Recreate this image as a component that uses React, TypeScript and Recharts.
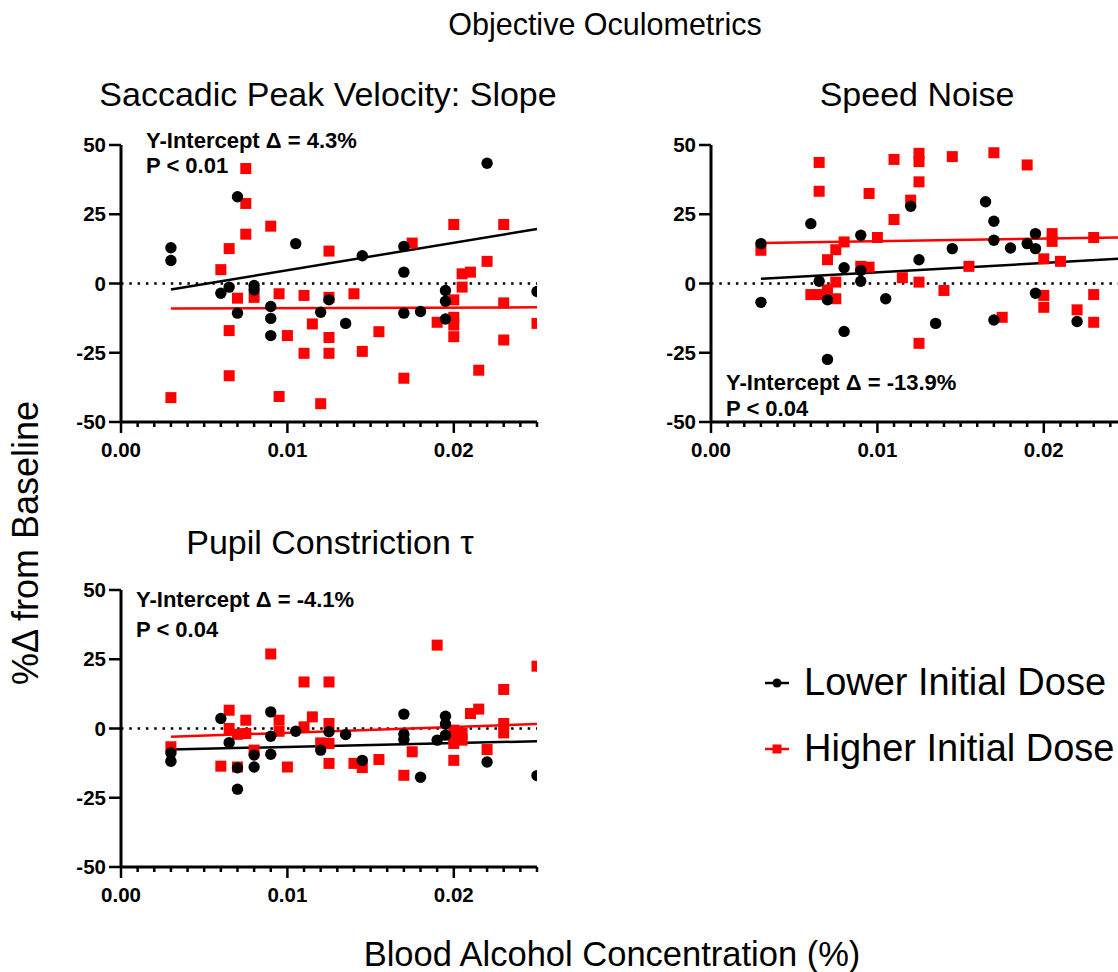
import React from 'react';
import { ScatterChart, Scatter, XAxis, YAxis, ReferenceLine } from 'recharts';

const FONT = '"Liberation Sans", Arial, Helvetica, sans-serif';
const RED = '#ff0000';
const BLACK = '#000000';

// ---- axes ----
const xTickValues = [
  0, 0.001, 0.002, 0.003, 0.004, 0.005, 0.006, 0.007, 0.008, 0.009, 0.01,
  0.011, 0.012, 0.013, 0.014, 0.015, 0.016, 0.017, 0.018, 0.019, 0.02,
  0.021, 0.022, 0.023, 0.024, 0.025,
];
const xMajorTicks = [0, 0.01, 0.02];
const xMajorLabels = ['0.00', '0.01', '0.02'];
const yTickValues = [-50, -25, 0, 25, 50];
const xDomain = [0, 0.025];
const yDomain = [-50, 50];

// ---- Saccadic Peak Velocity: Slope ----
const spvLower = [
  [0.003, 12.9], [0.003, 8.3], [0.006, -3.5], [0.0065, -1.3], [0.007, 31.3], [0.007, -10.7],
  [0.008, -0.7], [0.008, -2.3], [0.009, -8.3], [0.009, -12.6], [0.009, -18.8], [0.0105, 14.4],
  [0.012, -10.4], [0.0125, -5.9], [0.0135, -14.4], [0.0145, 10.0], [0.017, 13.4], [0.017, 4.1],
  [0.017, -10.7], [0.018, -10.1], [0.0195, -2.5], [0.0195, -6.4], [0.0195, -12.8], [0.022, 43.4],
  [0.025, -2.9],
];
const spvHigher = [
  [0.003, -41.2], [0.006, 5.0], [0.0065, 12.6], [0.0065, -17], [0.0065, -33.3], [0.007, -5.3],
  [0.0075, 41.5], [0.0075, 28.9], [0.0075, 17.8], [0.008, -5.0], [0.009, 20.7], [0.0095, -3.7],
  [0.0095, -40.8], [0.01, -18.8], [0.011, -4.3], [0.011, -25.2], [0.0115, -14.6], [0.012, -43.4],
  [0.0125, 11.7], [0.0125, -5], [0.0125, -19.5], [0.0125, -25.2], [0.014, -3.7], [0.0145, -24.5],
  [0.0155, -17.4], [0.017, -34.2], [0.0175, 14.6], [0.019, -14], [0.02, 21.3], [0.02, -5.9],
  [0.02, -12.2], [0.02, -15], [0.02, -19.2], [0.0205, 3.5], [0.0205, -1.3], [0.021, 4.1],
  [0.0215, -31.3], [0.022, 8.0], [0.023, 21.3], [0.023, -7], [0.023, -20.4], [0.025, -14.4],
];
const spvLowerFit = [[0.003, -2.2], [0.025, 19.7]];
const spvHigherFit = [[0.003, -9.0], [0.025, -8.6]];

// ---- Speed Noise ----
const snLower = [
  [0.003, 14.4], [0.003, -6.8], [0.006, 21.6], [0.0065, 0.8], [0.007, -5.9], [0.007, -27.4],
  [0.008, 5.7], [0.008, -17.3], [0.009, 17.4], [0.009, 4.7], [0.009, 0.8], [0.0105, -5.5],
  [0.012, 27.9], [0.0125, 8.6], [0.0135, -14.4], [0.0145, 12.6], [0.0165, 29.5], [0.017, 22.5],
  [0.017, 15.6], [0.017, -13.2], [0.018, 12.8], [0.019, 14.4], [0.0195, 18.0], [0.0195, 12.6],
  [0.0195, -3.5], [0.022, -13.7],
];
const snHigher = [
  [0.003, 12.0], [0.006, -4], [0.0065, 43.7], [0.0065, 33.3], [0.0065, -4], [0.007, 8.6],
  [0.007, -2.3], [0.0075, 12.2], [0.0075, 0.5], [0.0075, -5.5], [0.008, 15], [0.009, 6.2],
  [0.0095, 5.9], [0.0095, 32.5], [0.01, 16.6], [0.011, 44.8], [0.011, 23.1], [0.0115, 2.1],
  [0.012, 30.1], [0.0125, 47], [0.0125, 44], [0.0125, 36.7], [0.0125, 0.5], [0.0125, -21.6],
  [0.014, -2.5], [0.0145, 45.8], [0.0155, 6.2], [0.017, 47.2], [0.0175, -12.2], [0.019, 42.8],
  [0.02, 8.9], [0.02, -4.3], [0.02, -8.6], [0.0205, 18], [0.0205, 15.2], [0.021, 8.0],
  [0.022, -9.5], [0.023, 16.6], [0.023, -4.0], [0.023, -14.0],
];
const snLowerFit = [[0.003, 1.7], [0.025, 9.1]];
const snHigherFit = [[0.003, 14.6], [0.025, 16.7]];

// ---- Pupil Constriction tau ----
const pcLower = [
  [0.003, -8.8], [0.003, -11.8], [0.006, 3.6], [0.0065, -5.1], [0.007, -14.2], [0.007, -21.9],
  [0.008, -9.6], [0.008, -13.9], [0.009, 6.0], [0.009, -2.8], [0.009, -9.3], [0.0105, -1.0],
  [0.012, -7.8], [0.0125, -1.2], [0.0135, -2.2], [0.0145, -11.5], [0.017, 5.2], [0.017, -2.1],
  [0.017, -4.0], [0.018, -17.6], [0.019, -4.2], [0.0195, 4.4], [0.0195, 1.6], [0.0195, -2.4],
  [0.022, -12.1], [0.025, -17.0],
];
const pcHigher = [
  [0.003, -6.6], [0.006, -13.6], [0.0065, 6.6], [0.0065, 0], [0.007, -2.1], [0.007, -13.9],
  [0.0075, 3.0], [0.0075, -1.8], [0.008, -7.8], [0.009, 26.9], [0.0095, 3.0], [0.0095, -1],
  [0.01, -13.9], [0.011, 16.8], [0.011, 0.6], [0.0115, 4.2], [0.012, -5.2], [0.0125, 16.8],
  [0.0125, 1.8], [0.0125, -5.4], [0.0125, -12.6], [0.014, -12.6], [0.0145, -14.1], [0.0155, -11.2],
  [0.017, -16.9], [0.0175, -8.4], [0.019, 30.1], [0.02, -0.6], [0.02, -3.0], [0.02, -5.4],
  [0.02, -11.5], [0.0205, -1.8], [0.0205, -4.2], [0.021, 5.4], [0.0215, 7.0], [0.022, -7.6],
  [0.023, 14.1], [0.023, 1.8], [0.023, -1.6], [0.025, 22.5],
];
const pcLowerFit = [[0.003, -7.6], [0.025, -4.6]];
const pcHigherFit = [[0.003, -3.0], [0.025, 1.6]];

const toPts = (a: number[][]) => a.map(([x, y]) => ({ x, y }));

const XTick = (props: any) => {
  const { x, y, payload } = props;
  const idx = xMajorTicks.findIndex((m) => Math.abs(m - payload.value) < 1e-9);
  const major = idx >= 0;
  return (
    <g>
      <line x1={x} x2={x} y1={y} y2={y + (major ? 11 : 5)} stroke={BLACK} strokeWidth={2.5} />
      {major && (
        <text x={x} y={y + 35} textAnchor="middle" fontFamily={FONT} fontWeight="bold" fontSize={20.5} fill={BLACK}>
          {xMajorLabels[idx]}
        </text>
      )}
    </g>
  );
};

const YTick = (props: any) => {
  const { x, y, payload } = props;
  return (
    <g>
      <line x1={x - 12} x2={x} y1={y} y2={y} stroke={BLACK} strokeWidth={2.5} />
      <text x={x - 15} y={y + 7} textAnchor="end" fontFamily={FONT} fontWeight="bold" fontSize={20.5} fill={BLACK}>
        {payload.value}
      </text>
    </g>
  );
};

const Circle = (p: any) => <circle cx={p.cx} cy={p.cy} r={5.7} fill={BLACK} />;
const Square = (p: any) => <rect x={p.cx - 5.5} y={p.cy - 5.5} width={11} height={11} fill={RED} />;

type PanelProps = {
  left: number;
  top: number;
  lower: number[][];
  higher: number[][];
  lowerFit: number[][];
  higherFit: number[][];
};

const Panel = ({ left, top, lower, higher, lowerFit, higherFit }: PanelProps) => (
  <div style={{ position: 'absolute', left, top }}>
    <ScatterChart width={500} height={339} margin={{ top: 15, right: 23, left: 11, bottom: 0 }}>
      <XAxis
        type="number"
        dataKey="x"
        domain={xDomain}
        allowDataOverflow
        ticks={xTickValues}
        interval={0}
        tick={XTick}
        tickLine={false}
        tickSize={0}
        tickMargin={0}
        height={47}
        axisLine={{ stroke: BLACK, strokeWidth: 3 }}
      />
      <YAxis
        type="number"
        dataKey="y"
        domain={yDomain}
        allowDataOverflow
        ticks={yTickValues}
        interval={0}
        tick={YTick}
        tickLine={false}
        tickSize={0}
        tickMargin={0}
        width={50}
        axisLine={{ stroke: BLACK, strokeWidth: 3 }}
      />
      <ReferenceLine y={0} stroke={BLACK} strokeWidth={2.5} strokeDasharray="2.5 5.8" />
      <ReferenceLine
        segment={[{ x: higherFit[0][0], y: higherFit[0][1] }, { x: higherFit[1][0], y: higherFit[1][1] }]}
        stroke={RED}
        strokeWidth={2.5}
      />
      <ReferenceLine
        segment={[{ x: lowerFit[0][0], y: lowerFit[0][1] }, { x: lowerFit[1][0], y: lowerFit[1][1] }]}
        stroke={BLACK}
        strokeWidth={2.5}
      />
      <Scatter name="Higher Initial Dose" data={toPts(higher)} shape={Square} isAnimationActive={false} />
      <Scatter name="Lower Initial Dose" data={toPts(lower)} shape={Circle} isAnimationActive={false} />
    </ScatterChart>
  </div>
);

const Overlay = () => (
  <svg width={1118} height={972} style={{ position: 'absolute', left: 0, top: 0 }} fontFamily={FONT}>
    <text x={605} y={35} textAnchor="middle" fontSize={30.5} fill={BLACK}>Objective Oculometrics</text>

    <text x={328} y={106} textAnchor="middle" fontSize={34} fill={BLACK}>Saccadic Peak Velocity: Slope</text>
    <text x={917} y={106} textAnchor="middle" fontSize={34} fill={BLACK}>Speed Noise</text>
    <text x={330} y={554} textAnchor="middle" fontSize={34} fill={BLACK}>Pupil Constriction τ</text>

    <text transform="translate(38,543) rotate(-90)" textAnchor="middle" fontSize={36} fill={BLACK}>%Δ from Baseline</text>
    <text x={612} y={966} textAnchor="middle" fontSize={34.5} fill={BLACK}>Blood Alcohol Concentration (%)</text>

    <g fontWeight="bold" fontSize={22} fill={BLACK}>
      <text x={146} y={148}>Y-Intercept Δ = 4.3%</text>
      <text x={146} y={173}>P &lt; 0.01</text>
      <text x={726} y={390}>Y-Intercept Δ = -13.9%</text>
      <text x={726} y={416}>P &lt; 0.04</text>
      <text x={136} y={607}>Y-Intercept Δ = -4.1%</text>
      <text x={136} y={637}>P &lt; 0.04</text>
    </g>

    <g>
      <line x1={765} x2={789} y1={683} y2={683} stroke={BLACK} strokeWidth={2.5} />
      <circle cx={777} cy={683} r={4.5} fill={BLACK} />
      <text x={804} y={695} fontSize={38} fill={BLACK}>Lower Initial Dose</text>
      <line x1={765} x2={789} y1={749} y2={749} stroke={RED} strokeWidth={2.5} />
      <rect x={772.5} y={744.5} width={9} height={9} fill={RED} />
      <text x={804} y={761} fontSize={38} fill={BLACK}>Higher Initial Dose</text>
    </g>
  </svg>
);

export default function App() {
  return (
    <div
      style={{
        position: 'absolute',
        left: 0,
        top: 0,
        width: 1118,
        height: 972,
        overflow: 'hidden',
        background: '#fff',
        fontFamily: FONT,
      }}
    >
      <Overlay />
      <Panel left={60} top={130} lower={spvLower} higher={spvHigher} lowerFit={spvLowerFit} higherFit={spvHigherFit} />
      <Panel left={650} top={130} lower={snLower} higher={snHigher} lowerFit={snLowerFit} higherFit={snHigherFit} />
      <Panel left={60} top={575} lower={pcLower} higher={pcHigher} lowerFit={pcLowerFit} higherFit={pcHigherFit} />
    </div>
  );
}
